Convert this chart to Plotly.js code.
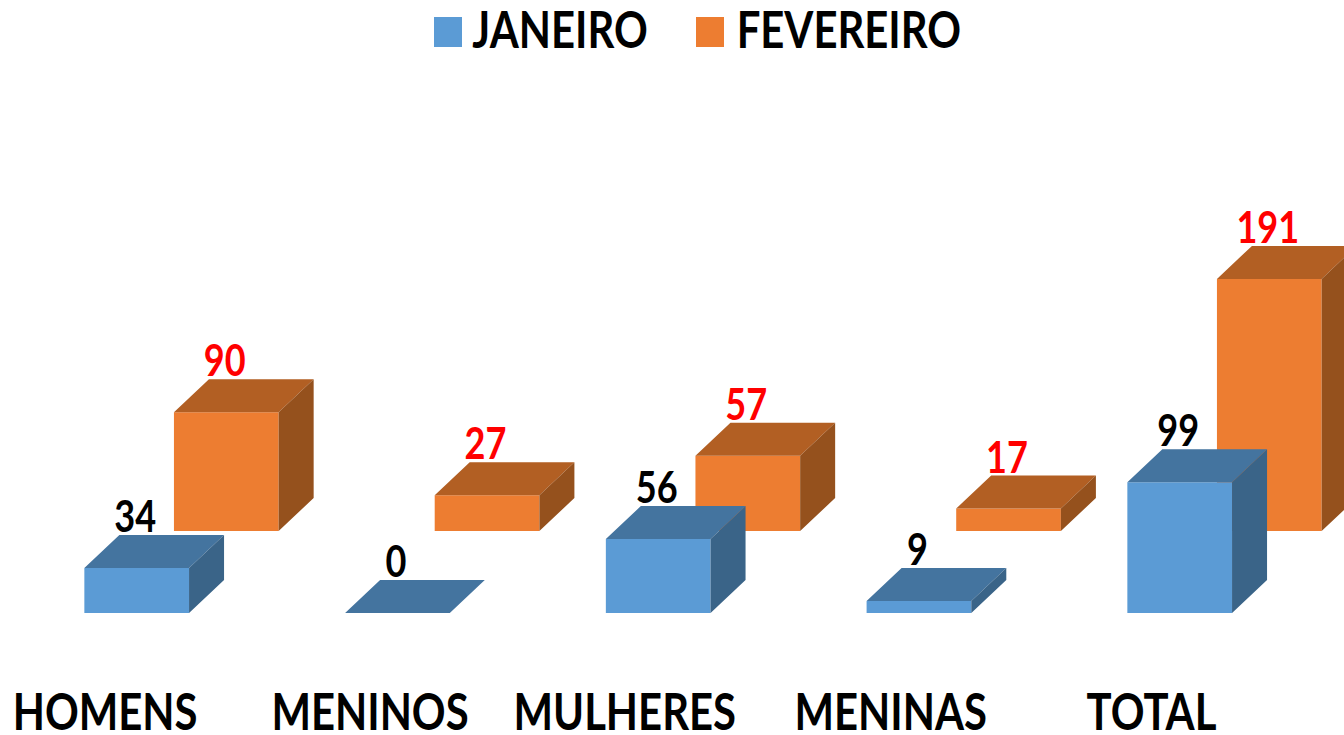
<!DOCTYPE html>
<html>
<head>
<meta charset="utf-8">
<script src="https://cdn.plot.ly/plotly-3.0.1.min.js"></script>
<style>html,body{margin:0;padding:0;background:#fff;overflow:hidden}#chart{width:1344px;height:735px}</style>
</head>
<body>
<div id="chart"></div>
<script>
var categories = ['HOMENS', 'MENINOS', 'MULHERES', 'MENINAS', 'TOTAL'];
var janeiro = [34, 0, 56, 9, 99];
var fevereiro = [90, 27, 57, 17, 191];
var seriesNames = ['JANEIRO', 'FEVEREIRO'];

var FONT = 'Lato, "Open Sans", sans-serif';
var W = 1344, H = 735, MB = 57;
var pxPerCat = 260.75, pxPerUnit = 1.32;
var xMin = -181.5 / pxPerCat;
var xMax = xMin + W / pxPerCat;
var yZero = 613;
var yMin = -(H - MB - yZero) / pxPerUnit;
var yMax = yZero / pxPerUnit;

var barW = 104.7 / pxPerCat;
var shift = 44.8 / pxPerCat;
var depthX = 35 / pxPerCat;
var depthY = 33 / pxPerUnit;
var orangeBase = 82 / pxPerUnit;
var labelGap = 14 / pxPerUnit;
var labelDx = -19 / pxPerCat;
var tickPositions = [-0.293, 0.723, 1.70, 2.72, 3.72];
var CONDENSE = 0.82;

function faces(vals, cx, base, color, part) {
  var xs = [], ys = [];
  vals.forEach(function (v, i) {
    var l = i + cx - barW / 2, r = i + cx + barW / 2, t = base + v, b = base;
    if (part === 'top') {
      xs.push(l, r, r + depthX, l + depthX, l, null);
      ys.push(t, t, t + depthY, t + depthY, t, null);
    } else {
      xs.push(r, r + depthX, r + depthX, r, r, null);
      ys.push(b, b + depthY, t + depthY, t, b, null);
    }
  });
  return {type: 'scatter', mode: 'lines', x: xs, y: ys, fill: 'toself', fillcolor: color,
          line: {width: 0, color: color}, hoverinfo: 'skip', showlegend: false};
}
function front(vals, cx, base, color, name) {
  return {type: 'bar', name: name, x: vals.map(function (v, i) { return i + cx; }), y: vals,
          base: vals.map(function () { return base; }), width: barW,
          marker: {color: color, line: {width: 0}}, showlegend: false};
}
function labels(vals, cx, base, color) {
  return {type: 'scatter', mode: 'text', x: vals.map(function (v, i) { return i + cx + depthX / 2 + labelDx; }),
          y: vals.map(function (v) { return base + v + depthY + labelGap; }),
          text: vals.map(String), textposition: 'middle center',
          textfont: {family: FONT, size: 44, color: color, weight: 700},
          cliponaxis: false, hoverinfo: 'skip', showlegend: false};
}

var traces = [
  front(fevereiro, shift, orangeBase, '#ED7D31', seriesNames[1]),
  front(janeiro, -shift, 0, '#5B9BD5', seriesNames[0]),
  faces(fevereiro, shift, orangeBase, '#B25F23', 'top'),
  faces(fevereiro, shift, orangeBase, '#95511D', 'side'),
  faces(janeiro, -shift, 0, '#44749F', 'top'),
  faces(janeiro, -shift, 0, '#3A6488', 'side'),
  labels(fevereiro, shift, orangeBase, '#FF0000'),
  labels(janeiro, -shift, 0, '#000000')
];

var layout = {
  width: W, height: H,
  margin: {l: 0, r: 0, t: 0, b: MB},
  paper_bgcolor: '#fff', plot_bgcolor: '#fff',
  barmode: 'overlay', showlegend: false,
  font: {family: FONT, color: '#000'},
  xaxis: {range: [xMin, xMax], showgrid: false, zeroline: false, showline: false, ticks: '',
          tickmode: 'array', tickvals: tickPositions, ticktext: categories, ticklabeloverflow: 'allow',
          tickangle: 0, tickfont: {family: FONT, size: 51, color: '#000', weight: 700}, automargin: false},
  yaxis: {range: [yMin, yMax], visible: false, fixedrange: true},
  shapes: [
    {type: 'rect', xref: 'paper', yref: 'paper', x0: 434 / W, x1: 462 / W, y0: 1 - 47 / (H - MB), y1: 1 - 17 / (H - MB), fillcolor: '#5B9BD5', line: {width: 0}},
    {type: 'rect', xref: 'paper', yref: 'paper', x0: 696 / W, x1: 724 / W, y0: 1 - 47 / (H - MB), y1: 1 - 17 / (H - MB), fillcolor: '#ED7D31', line: {width: 0}}
  ],
  annotations: [
    {xref: 'paper', yref: 'paper', x: 560 / W, y: 1 - 29 / (H - MB), xanchor: 'center', yanchor: 'middle', showarrow: false,
     text: seriesNames[0], font: {family: FONT, size: 51, color: '#000', weight: 700}},
    {xref: 'paper', yref: 'paper', x: 848.5 / W, y: 1 - 29 / (H - MB), xanchor: 'center', yanchor: 'middle', showarrow: false,
     text: seriesNames[1], font: {family: FONT, size: 51, color: '#000', weight: 700}}
  ]
};
Plotly.newPlot('chart', traces, layout, {displayModeBar: false, staticPlot: true}).then(function () {
  // The reference type is a tall condensed face: narrow the real text glyphs.
  document.querySelectorAll('#chart .xtick text, #chart .textpoint text, #chart .annotation-text').forEach(function (t) {
    t.setAttribute('textLength', t.getComputedTextLength() * CONDENSE);
    t.setAttribute('lengthAdjust', 'spacingAndGlyphs');
  });
});
</script>
</body>
</html>
